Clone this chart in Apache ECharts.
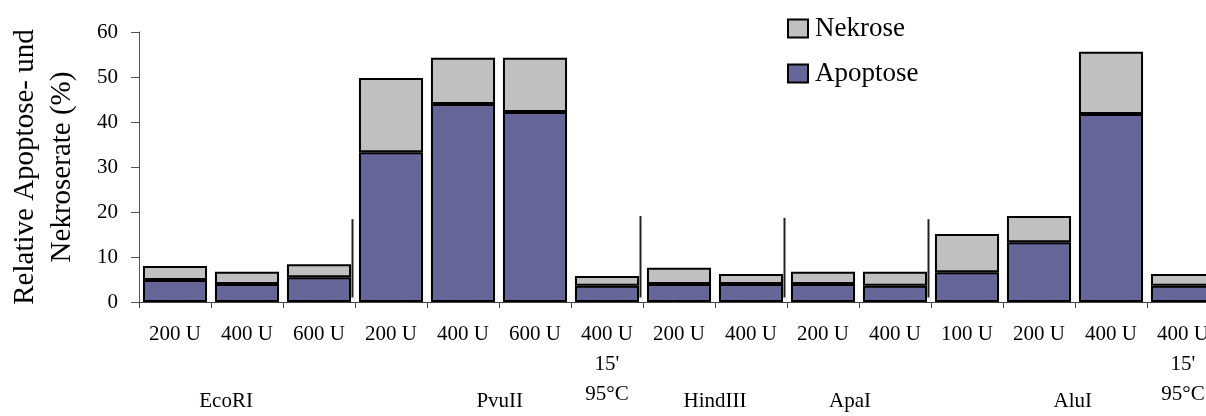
<!DOCTYPE html>
<html>
<head>
<meta charset="utf-8">
<script src="https://cdn.jsdelivr.net/npm/echarts@6/dist/echarts.min.js"></script>
<style>
  html, body { margin: 0; padding: 0; background: #fff; }
  #chart { width: 1206px; height: 416px; }
</style>
</head>
<body>
<div id="chart"></div>
<script>
// Dose labels per bar (the heat-treated controls carry a second and third line)
const categories = [
  '200 U', '400 U', '600 U',
  '200 U', '400 U', '600 U', "400 U\n15'\n95°C",
  '200 U', '400 U',
  '200 U', '400 U',
  '100 U', '200 U', '400 U', "400 U\n15'\n95°C"
];

// Relative rates in percent
const apoptose = [4.9, 4.0, 5.5, 33.3, 44.0, 42.2, 3.6, 4.0, 4.0, 4.0, 3.6, 6.6, 13.3, 41.8, 3.6];
const nekrose  = [3.1, 2.7, 2.9, 16.5, 10.3, 12.1, 2.2, 3.6, 2.2, 2.7, 3.1, 8.5, 5.8, 13.8, 2.6];

// Restriction enzymes and how many bars belong to each
const enzymes = ['EcoRI', 'PvuII', 'HindIII', 'ApaI', 'AluI'];
const enzymeSizes = [3, 4, 2, 2, 4];

// Height (in %) of the divider lines between enzyme groups
const dividerTops = [18.4, 19.1, 18.7, 18.4];
const dividerBottom = 1;

const yTicks = { min: 0, max: 60, interval: 10 };

// ---- layout (kept apart from the data) ----
const FONT = "'Liberation Serif', 'Times New Roman', serif";
const enzymeLabelAt = [1.21, 5.01, 8.0, 9.875, 12.97]; // in bar-slot units along x
const enzymeLabelDrop = 99;                              // px below the x axis
const dividerShift = -2.5;                               // px

// Boundaries between enzyme groups, in bar-slot units
const boundaries = [];
{
  let acc = 0;
  for (let i = 0; i < enzymeSizes.length - 1; i++) {
    acc += enzymeSizes[i];
    boundaries.push(acc);
  }
}
const dividerData = boundaries.map((b, i) => [b, dividerBottom, dividerTops[i]]);
const enzymeData = enzymes.map((name, i) => [enzymeLabelAt[i], 0, name]);

const chart = echarts.init(document.getElementById('chart'), null, { renderer: 'canvas' });

const barStyle = (color) => ({ color: color, borderColor: '#000', borderWidth: 2 });

chart.setOption({
  animation: false,
  backgroundColor: '#fff',
  textStyle: { fontFamily: FONT },
  // the plot runs a little past the right edge, so the last bar is cut off
  grid: {
    left: 139, width: 1080, top: 32, bottom: 114,
    containLabel: false,
    outerBoundsMode: 'none'
  },
  legend: {
    orient: 'vertical',
    left: 782,
    top: 10,
    itemWidth: 20,
    itemHeight: 18,
    itemGap: 18,
    textStyle: { fontFamily: FONT, fontSize: 27, color: '#000', padding: [0, 0, 0, 2] },
    data: [
      { name: 'Nekrose', icon: 'rect', itemStyle: { color: '#C0C0C0', borderColor: '#000', borderWidth: 2 } },
      { name: 'Apoptose', icon: 'rect', itemStyle: { color: '#666699', borderColor: '#000', borderWidth: 2 } }
    ]
  },
  xAxis: [
    {
      type: 'category',
      data: categories,
      axisLine: { lineStyle: { color: '#444', width: 1 } },
      axisTick: { show: true, length: 6, lineStyle: { color: '#444' } },
      axisLabel: {
        interval: 0,
        margin: 17,
        fontFamily: FONT,
        fontSize: 21,
        lineHeight: 30,
        color: '#000'
      }
    },
    {
      type: 'value',
      min: 0,
      max: categories.length,
      show: false
    }
  ],
  yAxis: {
    type: 'value',
    min: yTicks.min,
    max: yTicks.max,
    interval: yTicks.interval,
    name: 'Relative Apoptose- und\nNekroserate (%)',
    nameLocation: 'middle',
    nameGap: 58,
    nameTextStyle: { fontFamily: FONT, fontSize: 29, lineHeight: 37, color: '#000' },
    splitLine: { show: false },
    axisLine: { show: true, lineStyle: { color: '#555', width: 1 } },
    axisTick: { show: true, length: 8, lineStyle: { color: '#555' } },
    axisLabel: { margin: 21, fontFamily: FONT, fontSize: 21, color: '#000' }
  },
  series: [
    {
      name: 'Apoptose',
      type: 'bar',
      stack: 'rate',
      barCategoryGap: '11%',
      itemStyle: barStyle('#666699'),
      data: apoptose
    },
    {
      name: 'Nekrose',
      type: 'bar',
      stack: 'rate',
      barCategoryGap: '11%',
      itemStyle: barStyle('#C0C0C0'),
      data: nekrose
    },
    {
      // divider lines between enzyme groups
      type: 'custom',
      xAxisIndex: 1,
      silent: true,
      data: dividerData,
      renderItem: function (params, api) {
        const p0 = api.coord([api.value(0), api.value(1)]);
        const p1 = api.coord([api.value(0), api.value(2)]);
        return {
          type: 'line',
          shape: { x1: p0[0] + dividerShift, y1: p0[1], x2: p1[0] + dividerShift, y2: p1[1] },
          style: { stroke: '#222', lineWidth: 2 }
        };
      }
    },
    {
      // enzyme names under the dose labels
      type: 'custom',
      xAxisIndex: 1,
      silent: true,
      data: enzymeData,
      renderItem: function (params, api) {
        const p = api.coord([api.value(0), 0]);
        return {
          type: 'text',
          x: p[0],
          y: p[1] + enzymeLabelDrop,
          style: {
            text: enzymes[params.dataIndex],
            fontFamily: FONT,
            fontSize: 21,
            fill: '#000',
            align: 'center',
            verticalAlign: 'middle'
          }
        };
      }
    }
  ]
});
</script>
</body>
</html>
